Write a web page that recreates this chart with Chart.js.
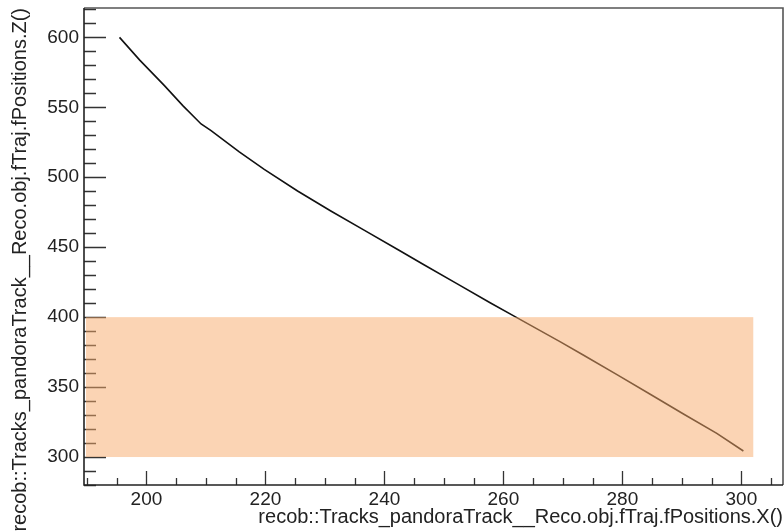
<!DOCTYPE html>
<html><head><meta charset="utf-8">
<script src="https://cdn.jsdelivr.net/npm/chart.js@4/dist/chart.umd.min.js"></script>
<style>html,body{margin:0;padding:0;background:#fff}</style>
</head><body>
<canvas id="c" width="784" height="532"></canvas>
<script>
// ---- data ----
const trackX = [195.47,198.83,203.02,206.11,209.18,210.86,215.60,219.80,225.40,230.99,236.58,242.45,246.64,252.25,257.84,262.03,269.58,273.49,279.09,284.68,290.27,295.87,300.34];
const trackZ = [600.0,583.9,565.5,551.2,538.1,533.4,518.2,505.6,490.2,475.9,462.2,447.8,437.5,423.8,410.1,400.2,382.3,372.8,358.9,344.9,330.8,316.9,304.3];
const xTicks = [200,220,240,260,280,300];
const yTicks = [300,350,400,450,500,550,600];
const xMinorStep = 5;
const yMinorStep = 10;
const xRange = [189.5,307];
const yRange = [280,621];
const bandX = [189.5,302];
const bandZ = [300,400];
const xTitle = 'recob::Tracks_pandoraTrack__Reco.obj.fTraj.fPositions.X()';
const yTitle = 'recob::Tracks_pandoraTrack__Reco.obj.fTraj.fPositions.Z()';

const FONT = '"Liberation Sans", Arial, Helvetica, sans-serif';

const points = trackX.map((x,i)=>({x:x,y:trackZ[i]}));

const rootFrame = {
  id:'rootFrame',
  afterDatasetsDraw(chart){
    const ctx = chart.ctx, a = chart.chartArea;
    const xs = chart.scales.x, ys = chart.scales.y;
    ctx.save();
    ctx.strokeStyle = '#333'; ctx.lineWidth = 1.3;
    ctx.beginPath();
    const xMajLen = 14, xMinLen = 7, yMajLen = 22, yMinLen = 12;
    for (let v = Math.ceil(xRange[0]/xMinorStep)*xMinorStep; v <= xRange[1]; v += xMinorStep) {
      const px = Math.round(xs.getPixelForValue(v))+0.5;
      const len = xTicks.includes(v) ? xMajLen : xMinLen;
      ctx.moveTo(px, a.bottom); ctx.lineTo(px, a.bottom - len);
    }
    for (let v = Math.ceil(yRange[0]/yMinorStep)*yMinorStep; v <= yRange[1]; v += yMinorStep) {
      const py = Math.round(ys.getPixelForValue(v))+0.5;
      const len = yTicks.includes(v) ? yMajLen : yMinLen;
      ctx.moveTo(a.left, py); ctx.lineTo(a.left + len, py);
    }
    ctx.stroke();
    ctx.beginPath();
    ctx.rect(a.left+2, a.top, a.right-a.left-4, a.bottom-a.top-2);
    ctx.clip();
    const x0 = xs.getPixelForValue(bandX[0]), x1 = xs.getPixelForValue(bandX[1]);
    const y0 = ys.getPixelForValue(bandZ[1]), y1 = ys.getPixelForValue(bandZ[0]);
    ctx.fillStyle = 'rgba(248,170,106,0.5)';
    ctx.fillRect(x0, y0, x1-x0, y1-y0);
    ctx.restore();
    ctx.save();
    ctx.lineWidth = 1.6;
    ctx.strokeStyle = '#555';
    ctx.beginPath();
    ctx.moveTo(a.left, a.top); ctx.lineTo(a.right, a.top); ctx.lineTo(a.right, a.bottom);
    ctx.stroke();
    ctx.strokeStyle = '#222';
    ctx.beginPath();
    ctx.moveTo(a.left, a.top); ctx.lineTo(a.left, a.bottom); ctx.lineTo(a.right, a.bottom);
    ctx.stroke();
    ctx.restore();
  }
};

new Chart(document.getElementById('c'), {
  type: 'scatter',
  data: { datasets: [{
    data: points,
    showLine: true,
    borderColor: '#111',
    borderWidth: 1.6,
    pointRadius: 0,
    tension: 0
  }]},
  options: {
    responsive: false,
    animation: false,
    devicePixelRatio: 1,
    layout: { padding: { top: 8, right: 1, left: 0, bottom: 0 } },
    plugins: { legend: { display: false }, tooltip: { enabled: false } },
    scales: {
      x: {
        type: 'linear', min: xRange[0], max: xRange[1],
        afterBuildTicks: s => { s.ticks = xTicks.map(v=>({value:v})); },
        afterFit: s => { s.height = 47; s.paddingLeft = 0; s.paddingRight = 0; },
        grid: { display: false, drawTicks: false },
        border: { display: false },
        ticks: { color: '#222', font: { family: FONT, size: 19 }, padding: 3, maxRotation: 0, autoSkip: false },
        title: { display: true, text: xTitle, align: 'end', color: '#222', font: { family: FONT, size: 20 }, padding: { top: 0, bottom: 3 } }
      },
      y: {
        type: 'linear', min: yRange[0], max: yRange[1],
        afterBuildTicks: s => { s.ticks = yTicks.map(v=>({value:v})); },
        afterFit: s => { s.width = 84; s.paddingTop = 0; s.paddingBottom = 0; },
        grid: { display: false, drawTicks: false },
        border: { display: false },
        ticks: { color: '#222', font: { family: FONT, size: 19 }, padding: 5, autoSkip: false },
        title: { display: true, text: yTitle, align: 'end', color: '#222', font: { family: FONT, size: 20 }, padding: { top: 8, bottom: 0 } }
      }
    }
  },
  plugins: [rootFrame]
});
</script>
</body></html>
